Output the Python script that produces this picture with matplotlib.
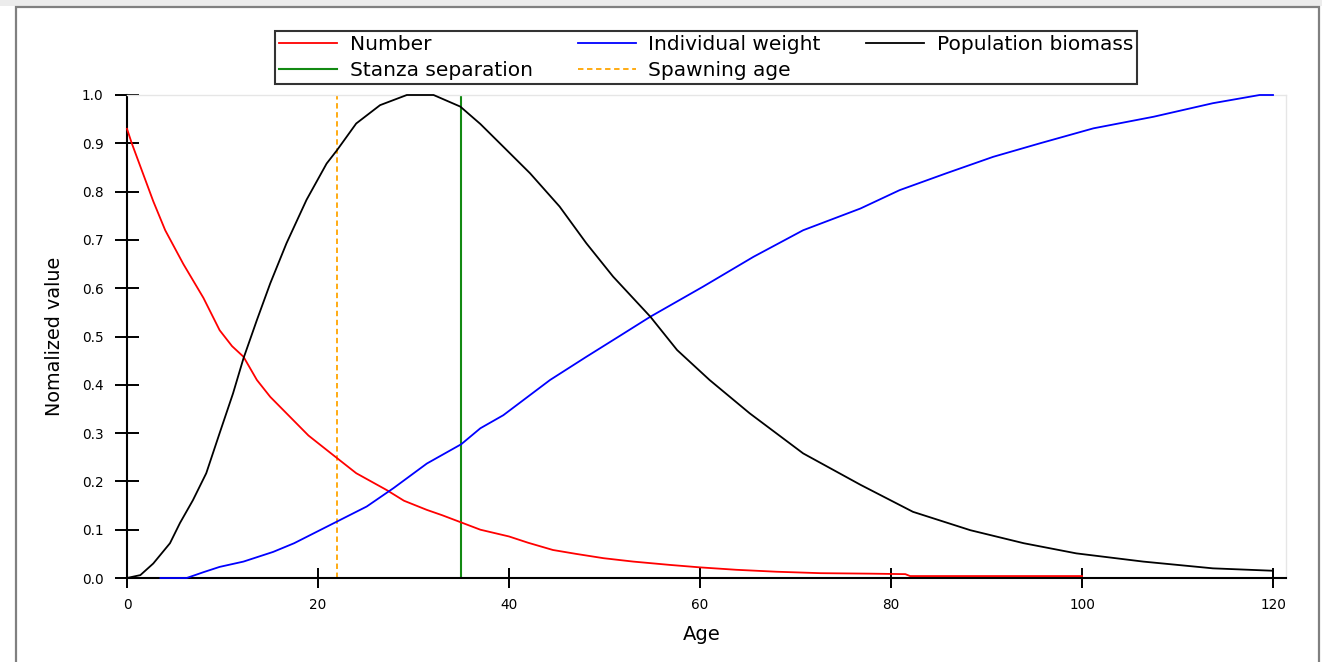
import matplotlib.pyplot as plt
from matplotlib.patches import Rectangle

# Number (survival)
number_age = [0, 0.5, 2.75, 4, 5.9, 8, 9.7, 11, 12.2, 13.6, 15, 16.7, 19, 21.3, 24, 27.2,
              29, 31.4, 33, 35, 37, 40, 42, 44.6, 47, 49.9, 53, 56.9, 60, 63.8, 68, 72.6,
              77.8, 81.5, 82, 100]
number_val = [0.93, 0.90, 0.78, 0.72, 0.65, 0.58, 0.513, 0.48, 0.458, 0.41, 0.375, 0.341,
              0.295, 0.259, 0.217, 0.182, 0.16, 0.141, 0.13, 0.115, 0.10, 0.086, 0.073,
              0.058, 0.05, 0.041, 0.034, 0.027, 0.022, 0.017, 0.013, 0.010, 0.009, 0.008,
              0.004, 0.004]

# Individual weight
weight_age = [3.5, 6.25, 8, 9.7, 12.2, 15.3, 17.5, 19.5, 22, 25.1, 27.9, 31.4, 35, 37, 39.4,
              44.3, 48.1, 51.5, 54.8, 60.3, 65.6, 70.8, 76.8, 80.9, 85.8, 90.7, 95.6, 101.2,
              107.5, 113.7, 118.6, 120]
weight_val = [0.0, 0.0, 0.012, 0.023, 0.034, 0.054, 0.072, 0.092, 0.117, 0.148, 0.186, 0.237,
              0.277, 0.31, 0.337, 0.41, 0.458, 0.50, 0.541, 0.603, 0.665, 0.72, 0.765, 0.803,
              0.838, 0.872, 0.90, 0.931, 0.955, 0.983, 1.0, 1.0]

# Population biomass
biomass_age = [0, 1.4, 2.75, 4.5, 5.55, 6.9, 8.3, 9.7, 11.1, 12.2, 13.6, 15, 16.7, 18.8, 20.9,
               22, 24, 26.5, 29.3, 32.1, 34.9, 37, 39.4, 42.2, 45.3, 48.1, 50.9, 54.8, 57.6,
               61, 65.2, 70.8, 76.8, 82.3, 88.3, 93.9, 99.4, 106.4, 113.7, 120, 120]
biomass_val = [0.0, 0.006, 0.03, 0.072, 0.114, 0.161, 0.217, 0.30, 0.382, 0.455, 0.534, 0.61,
               0.693, 0.783, 0.858, 0.886, 0.941, 0.979, 1.0, 1.0, 0.976, 0.94, 0.893, 0.838,
               0.769, 0.693, 0.624, 0.541, 0.472, 0.41, 0.341, 0.258, 0.193, 0.137, 0.099,
               0.072, 0.051, 0.034, 0.020, 0.015, 0.0]

spawning_age = 22
stanza_age = 35

x_ticks = [0, 20, 40, 60, 80, 100, 120]
y_ticks = [0.0, 0.1, 0.2, 0.3, 0.4, 0.5, 0.6, 0.7, 0.8, 0.9, 1.0]

plt.rcParams['font.family'] = ['DejaVu Sans']

W, H = 1322, 662
fig = plt.figure(figsize=(W / 100, H / 100), dpi=100)
fig.patch.set_facecolor('white')

# window-like frame around the chart
fig.add_artist(Rectangle((0, 1 - 6 / H), 1, 6 / H, transform=fig.transFigure,
                         facecolor='#ececec', edgecolor='none', zorder=0))
fig.add_artist(Rectangle((16 / W, -0.05), (1319 - 16) / W, 1.05 - 7 / H,
                         transform=fig.transFigure, facecolor='white',
                         edgecolor='#808080', lw=1.6, zorder=0))

ax = fig.add_axes([127 / W, 1 - 578 / H, (1286 - 127) / W, (578 - 95) / H])

ln_num, = ax.plot(number_age, number_val, color='#ff0000', lw=1.3, label='Number',
                  zorder=3, clip_on=False)
ln_w, = ax.plot(weight_age, weight_val, color='#0000ff', lw=1.3, label='Individual weight',
                zorder=3, clip_on=False)
ln_b, = ax.plot(biomass_age, biomass_val, color='black', lw=1.3, label='Population biomass',
                zorder=3, clip_on=False)
ln_st = ax.axvline(stanza_age, color='#138a13', lw=1.5, label='Stanza separation', zorder=2)
ln_sp = ax.axvline(spawning_age, color='#ffa500', lw=1.3, ls=(0, (3, 2)), label='Spawning age',
                   zorder=2)

ax.set_xlim(0, 121.36)
ax.set_ylim(0, 1.0)
ax.set_xticks(x_ticks)
ax.set_yticks(y_ticks)
ax.set_yticklabels([f'{v:.1f}' for v in y_ticks])
ax.tick_params(axis='x', direction='inout', length=14.4, width=1.4, pad=7, labelsize=9.8)
ax.tick_params(axis='y', direction='inout', length=17, width=1.4, pad=8.4, labelsize=9.8)

for s in ['left', 'bottom']:
    ax.spines[s].set_linewidth(1.5)
    ax.spines[s].set_color('black')
for s in ['top', 'right']:
    ax.spines[s].set_linewidth(1.0)
    ax.spines[s].set_color('#e6e6e6')

ax.set_xlabel('Age', fontsize=14)
ax.set_ylabel('Nomalized value', fontsize=13.8)
ax.xaxis.set_label_coords(0.496, -0.097)
ax.yaxis.set_label_coords(-0.054, 0.5)

leg = ax.legend([ln_num, ln_st, ln_w, ln_sp, ln_b],
                ['Number', 'Stanza separation', 'Individual weight', 'Spawning age',
                 'Population biomass'],
                ncol=3, loc='center',
                bbox_to_anchor=((274 + 1138) / 2 / W, 1 - (31 + 84) / 2 / H),
                bbox_transform=fig.transFigure,
                fontsize=14.5, frameon=True, fancybox=False, shadow=False,
                handlelength=2.9, handletextpad=0.6, columnspacing=2.25,
                labelspacing=0.35, borderpad=0.18, borderaxespad=0)
leg.get_frame().set_edgecolor('black')
leg.get_frame().set_linewidth(1.5)

fig.savefig('out.png', dpi=100)
